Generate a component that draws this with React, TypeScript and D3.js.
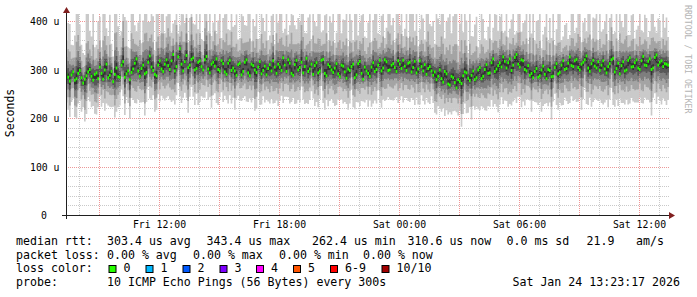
import React from "react";
import * as d3 from "d3";

const W = 697;
const H = 297;
const STEP = 5 * 60 * 1000;
const START = Date.UTC(2026, 0, 23, 7, 20);
const T0 = Date.UTC(2026, 0, 23, 7, 21);
const T1 = Date.UTC(2026, 0, 24, 13, 30);

// Samples are every 5 minutes. "A" arrays hold the samples at :x0 minutes,
// "B" arrays the samples 5 minutes later.
const medianA = [
  290, 276, 295, 281, 298, 272, 287, 300, 278, 293, 305, 280, 311, 288, 275, 303, 284, 316, 291, 279,
  301, 322, 286, 309, 294, 328, 298, 287, 318, 296, 320, 300, 331, 306, 343, 297, 329, 309, 324, 302,
  318, 299, 327, 293, 315, 322, 297, 312, 290, 319, 303, 288, 313, 296, 320, 287, 308, 294, 316, 298,
  289, 310, 318, 292, 305, 324, 296, 313, 288, 319, 304, 293, 323, 301, 290, 314, 297, 321, 287, 306,
  294, 312, 285, 307, 282, 298, 311, 289, 317, 280, 297, 286, 314, 300, 319, 303, 316, 299, 312, 296,
  311, 319, 298, 315, 304, 293, 318, 297, 290, 306, 288, 279, 299, 274, 291, 268, 283, 262, 275, 287,
  293, 277, 297, 283, 304, 286, 310, 293, 322, 301, 314, 326, 303, 322, 309, 331, 305, 318, 297, 288,
  283, 302, 287, 307, 281, 298, 286, 312, 294, 318, 302, 326, 306, 321, 299, 315, 328, 296, 319, 303,
  298, 318, 293, 312, 323, 302, 291, 316, 299, 324, 306, 320, 300, 327, 308, 322, 303, 330, 315, 306, 311,
];
const medianB = [
  284, 289, 278, 292, 283, 280, 295, 286, 290, 281, 292, 299, 283, 296, 290, 285, 309, 284, 297, 294,
  313, 297, 302, 291, 315, 305, 290, 309, 301, 311, 308, 318, 297, 326, 311, 316, 304, 321, 299, 315,
  306, 320, 301, 311, 307, 300, 318, 295, 313, 298, 297, 310, 289, 315, 293, 311, 299, 305, 291, 307,
  302, 297, 305, 311, 298, 309, 320, 292, 310, 299, 315, 306, 296, 311, 308, 293, 319, 292, 310, 299,
  303, 291, 309, 295, 301, 306, 283, 312, 292, 305, 292, 305, 296, 309, 297, 320, 298, 309, 304, 318,
  302, 307, 313, 295, 317, 301, 306, 310, 302, 297, 295, 286, 281, 296, 270, 286, 273, 279, 271, 295,
  282, 288, 279, 299, 281, 300, 292, 314, 296, 308, 305, 317, 314, 298, 325, 311, 320, 300, 308, 292,
  296, 284, 299, 290, 300, 285, 304, 291, 309, 300, 313, 308, 318, 304, 311, 320, 303, 312, 307, 316,
  309, 301, 306, 320, 295, 313, 308, 297, 319, 305, 314, 303, 318, 309, 317, 300, 325, 309, 318, 312, 309,
];

// distance of the sorted pings below the median (us)
const d1A = [
  58, 74, 55, 82, 63, 50, 79, 66, 53, 86, 60, 49, 81, 65, 52, 90, 58, 71, 48, 80,
  64, 92, 54, 76, 61, 88, 51, 70, 84, 56, 78, 62, 95, 59, 98, 55, 87, 65, 80, 52,
  85, 57, 73, 50, 68, 91, 54, 79, 52, 72, 61, 48, 77, 55, 86, 47, 67, 75, 89, 53,
  51, 80, 88, 56, 70, 93, 52, 83, 47, 89, 72, 55, 92, 64, 50, 81, 58, 90, 49, 71,
  63, 85, 48, 77, 53, 68, 89, 56, 92, 46, 59, 50, 84, 70, 88, 65, 79, 61, 76, 53,
  73, 87, 57, 82, 67, 51, 90, 62, 49, 77, 57, 72, 80, 54, 75, 56, 69, 50, 60, 79,
  83, 55, 72, 60, 88, 65, 95, 70, 99, 78, 86, 97, 68, 93, 75, 100, 62, 84, 58, 52,
  48, 70, 54, 82, 50, 66, 52, 85, 63, 91, 67, 95, 71, 88, 57, 76, 99, 54, 86, 65,
  60, 90, 55, 74, 96, 63, 51, 85, 61, 94, 72, 88, 58, 97, 69, 90, 61, 101, 80, 66, 84,
];
const d1B = [
  67, 56, 76, 62, 70, 87, 52, 64, 81, 59, 69, 84, 57, 74, 89, 63, 50, 78, 66, 53,
  82, 58, 70, 86, 51, 68, 77, 60, 55, 75, 63, 85, 69, 54, 80, 64, 93, 57, 72, 88,
  61, 78, 64, 90, 56, 73, 65, 49, 83, 68, 80, 64, 54, 70, 60, 79, 84, 51, 63, 75,
  68, 58, 74, 86, 52, 65, 77, 59, 81, 62, 50, 77, 67, 56, 83, 71, 53, 75, 86, 60,
  78, 53, 71, 62, 84, 48, 65, 80, 57, 73, 69, 82, 60, 52, 76, 85, 55, 72, 64, 87,
  57, 66, 78, 54, 90, 73, 59, 82, 70, 52, 84, 62, 68, 92, 63, 79, 58, 74, 89, 65,
  71, 91, 62, 81, 57, 84, 68, 77, 67, 96, 62, 81, 91, 72, 85, 67, 98, 74, 70, 79,
  63, 57, 86, 61, 76, 88, 54, 74, 83, 58, 84, 63, 79, 70, 94, 58, 76, 89, 67, 81,
  78, 69, 84, 58, 72, 88, 77, 69, 91, 64, 82, 71, 87, 67, 80, 95, 74, 65, 90, 77, 72,
];
const d2A = [
  28, 50, 33, 58, 36, 25, 52, 44, 29, 61, 35, 22, 56, 40, 27, 64, 31, 47, 21, 55,
  39, 68, 26, 51, 35, 62, 24, 45, 59, 30, 53, 37, 72, 33, 78, 28, 62, 40, 56, 25,
  60, 31, 48, 23, 42, 66, 27, 55, 26, 47, 36, 21, 52, 29, 61, 20, 41, 50, 64, 27,
  24, 57, 63, 30, 44, 69, 25, 58, 19, 63, 47, 28, 67, 38, 23, 56, 31, 65, 20, 45,
  37, 61, 20, 52, 26, 42, 64, 29, 67, 18, 32, 22, 59, 44, 63, 40, 55, 34, 51, 25,
  49, 62, 30, 57, 41, 23, 65, 36, 21, 52, 29, 46, 55, 26, 50, 27, 42, 22, 33, 54,
  58, 27, 47, 33, 63, 39, 70, 44, 76, 52, 61, 73, 41, 68, 49, 76, 34, 58, 30, 25,
  20, 44, 26, 57, 22, 40, 24, 60, 37, 66, 41, 71, 45, 63, 29, 51, 74, 26, 61, 38,
  32, 64, 27, 49, 70, 36, 23, 59, 34, 68, 46, 62, 29, 72, 44, 64, 33, 77, 55, 38, 58,
];
const d2B = [
  41, 28, 52, 35, 45, 63, 25, 38, 56, 31, 44, 59, 30, 49, 64, 37, 24, 54, 40, 27,
  57, 31, 45, 61, 25, 42, 52, 34, 28, 50, 37, 60, 44, 27, 55, 38, 69, 30, 46, 63,
  34, 53, 37, 65, 29, 47, 39, 22, 58, 42, 55, 38, 27, 44, 33, 54, 60, 25, 36, 50,
  42, 31, 49, 61, 26, 39, 52, 32, 56, 35, 24, 53, 41, 29, 58, 46, 27, 50, 61, 33,
  54, 27, 46, 35, 59, 22, 39, 56, 30, 47, 43, 57, 32, 26, 51, 60, 28, 46, 37, 62,
  30, 39, 53, 27, 65, 48, 32, 57, 44, 26, 60, 35, 42, 66, 37, 55, 31, 49, 63, 38,
  45, 65, 35, 56, 30, 58, 41, 51, 39, 70, 35, 56, 65, 46, 59, 39, 72, 48, 42, 54,
  37, 31, 60, 34, 51, 62, 28, 49, 57, 32, 58, 36, 54, 44, 68, 31, 49, 63, 40, 56,
  53, 42, 59, 31, 46, 62, 51, 43, 65, 37, 57, 44, 61, 40, 54, 67, 48, 38, 63, 51, 45,
];
const d3A = [
  17, 33, 20, 40, 22, 14, 35, 29, 16, 42, 22, 12, 38, 26, 15, 45, 18, 31, 11, 37,
  25, 47, 14, 34, 22, 43, 13, 29, 40, 17, 35, 23, 50, 20, 55, 16, 42, 26, 38, 14,
  41, 18, 32, 12, 27, 46, 15, 37, 14, 31, 23, 11, 35, 17, 42, 10, 26, 33, 45, 15,
  13, 39, 44, 18, 29, 48, 14, 40, 10, 43, 31, 16, 47, 24, 12, 38, 19, 45, 10, 29,
  23, 42, 10, 35, 15, 27, 44, 17, 47, 9, 19, 12, 40, 29, 44, 26, 37, 21, 34, 14,
  32, 43, 18, 39, 27, 13, 45, 23, 11, 35, 17, 30, 37, 15, 33, 16, 27, 12, 20, 36,
  39, 16, 31, 20, 44, 25, 49, 29, 53, 35, 42, 51, 26, 47, 32, 54, 21, 39, 18, 14,
  11, 28, 15, 38, 12, 25, 13, 41, 23, 45, 26, 49, 29, 43, 17, 33, 52, 15, 41, 24,
  20, 44, 16, 32, 48, 22, 13, 40, 21, 47, 30, 42, 17, 50, 28, 44, 20, 54, 37, 24, 39,
];
const d3B = [
  26, 16, 34, 21, 29, 42, 14, 23, 37, 18, 28, 39, 17, 31, 43, 22, 13, 35, 25, 15,
  37, 18, 28, 40, 14, 26, 34, 20, 16, 32, 23, 39, 28, 15, 36, 24, 46, 17, 29, 42,
  20, 34, 23, 43, 16, 30, 24, 12, 38, 26, 36, 23, 15, 28, 19, 35, 40, 14, 22, 32,
  26, 18, 31, 40, 15, 24, 34, 19, 37, 21, 13, 35, 25, 17, 38, 29, 15, 32, 40, 20,
  35, 15, 29, 21, 39, 12, 24, 37, 18, 30, 27, 37, 19, 14, 33, 39, 16, 29, 22, 41,
  17, 24, 34, 15, 43, 31, 19, 37, 28, 14, 39, 21, 26, 44, 22, 36, 18, 31, 42, 23,
  28, 43, 21, 36, 17, 38, 25, 33, 24, 47, 21, 36, 43, 29, 39, 24, 48, 31, 26, 35,
  22, 18, 39, 20, 33, 41, 16, 31, 37, 19, 38, 21, 35, 28, 45, 18, 31, 42, 25, 36,
  34, 26, 38, 18, 29, 41, 33, 27, 43, 22, 37, 28, 40, 24, 35, 44, 31, 23, 41, 33, 28,
];
const d4A = [
  8, 19, 10, 24, 12, 6, 20, 16, 7, 26, 11, 5, 23, 14, 7, 28, 9, 18, 5, 22,
  13, 29, 6, 20, 11, 26, 6, 16, 24, 8, 21, 12, 31, 10, 34, 7, 25, 14, 23, 6,
  25, 9, 19, 5, 15, 28, 7, 22, 6, 18, 12, 5, 21, 8, 26, 4, 14, 20, 28, 7,
  6, 24, 27, 9, 17, 30, 6, 25, 4, 26, 18, 7, 29, 13, 5, 23, 9, 28, 4, 17,
  12, 26, 4, 21, 7, 15, 27, 8, 29, 4, 9, 5, 25, 17, 27, 14, 22, 10, 20, 6,
  19, 27, 8, 24, 15, 6, 28, 12, 5, 21, 8, 17, 23, 7, 20, 7, 15, 5, 10, 22,
  24, 7, 18, 10, 27, 13, 31, 16, 33, 21, 26, 32, 14, 29, 19, 34, 10, 24, 9, 6,
  5, 16, 7, 23, 5, 13, 6, 25, 12, 28, 14, 30, 16, 26, 8, 19, 33, 7, 25, 12,
  10, 27, 7, 18, 30, 11, 6, 24, 10, 29, 17, 25, 8, 31, 15, 27, 10, 34, 22, 12, 23,
];
const d4B = [
  14, 8, 21, 11, 17, 26, 6, 12, 23, 9, 16, 24, 8, 18, 27, 11, 6, 21, 13, 7,
  22, 9, 16, 25, 6, 14, 20, 10, 8, 19, 12, 24, 16, 7, 22, 13, 29, 8, 17, 26,
  10, 20, 12, 27, 8, 17, 13, 5, 23, 14, 22, 12, 7, 16, 9, 21, 25, 6, 11, 19,
  14, 9, 18, 25, 7, 13, 20, 9, 23, 11, 6, 21, 14, 8, 24, 17, 7, 19, 25, 10,
  21, 7, 17, 11, 24, 5, 13, 23, 9, 18, 15, 23, 9, 7, 20, 24, 8, 17, 12, 26,
  8, 13, 21, 7, 27, 19, 9, 23, 16, 6, 24, 11, 15, 28, 11, 22, 9, 19, 26, 12,
  16, 27, 11, 22, 8, 23, 14, 20, 13, 30, 11, 22, 27, 17, 24, 13, 31, 19, 15, 21,
  12, 9, 24, 10, 20, 26, 7, 18, 23, 9, 23, 11, 21, 16, 28, 9, 18, 26, 14, 22,
  20, 14, 23, 9, 17, 25, 19, 15, 27, 12, 22, 16, 24, 13, 21, 27, 18, 12, 25, 19, 15,
];
const d5A = [
  3, 8, 4, 11, 5, 2, 9, 7, 2, 12, 4, 1, 10, 6, 2, 13, 3, 8, 1, 10,
  5, 14, 2, 9, 4, 12, 2, 7, 11, 3, 9, 5, 15, 4, 16, 2, 11, 6, 10, 2,
  11, 3, 8, 1, 6, 13, 2, 10, 2, 8, 5, 1, 9, 3, 12, 1, 6, 9, 13, 2,
  2, 11, 12, 3, 7, 14, 2, 11, 1, 12, 8, 2, 13, 5, 1, 10, 3, 13, 1, 7,
  5, 12, 1, 9, 2, 6, 12, 3, 14, 1, 3, 1, 11, 7, 12, 6, 10, 4, 9, 2,
  8, 12, 3, 11, 6, 2, 13, 5, 1, 9, 3, 7, 10, 2, 9, 2, 6, 1, 4, 10,
  11, 2, 8, 4, 12, 5, 14, 7, 15, 9, 12, 15, 6, 13, 8, 16, 4, 11, 3, 2,
  1, 7, 2, 10, 1, 5, 2, 11, 5, 13, 6, 14, 7, 12, 3, 8, 15, 2, 11, 5,
  4, 12, 2, 8, 14, 4, 2, 11, 4, 13, 7, 11, 3, 14, 6, 12, 4, 16, 10, 5, 10,
];
const d5B = [
  5, 2, 9, 3, 7, 12, 1, 4, 10, 2, 6, 10, 2, 7, 12, 3, 1, 9, 4, 2,
  9, 2, 6, 11, 1, 5, 8, 3, 2, 8, 4, 10, 6, 2, 9, 4, 13, 2, 7, 11,
  3, 8, 4, 12, 2, 7, 5, 1, 10, 5, 9, 4, 2, 6, 3, 9, 11, 1, 4, 8,
  5, 3, 7, 11, 2, 4, 8, 3, 10, 4, 1, 9, 5, 2, 10, 7, 2, 8, 11, 3,
  9, 2, 7, 4, 10, 1, 5, 10, 3, 7, 6, 10, 3, 2, 8, 10, 2, 7, 4, 11,
  2, 5, 9, 2, 12, 8, 3, 10, 6, 1, 10, 4, 6, 12, 4, 9, 3, 8, 11, 4,
  6, 12, 4, 9, 2, 10, 5, 8, 5, 13, 4, 9, 12, 7, 10, 5, 14, 8, 6, 9,
  4, 3, 10, 3, 8, 11, 2, 7, 10, 3, 10, 4, 9, 6, 12, 3, 7, 11, 5, 9,
  8, 5, 10, 3, 7, 11, 8, 6, 12, 4, 9, 6, 10, 5, 9, 12, 7, 4, 11, 8, 6,
];
// distance of the sorted pings above the median (us)
const u5A = [
  4, 8, 2, 11, 6, 3, 9, 5, 10, 2, 7, 12, 4, 8, 2, 11, 5, 13, 7, 3,
  8, 3, 10, 6, 12, 4, 7, 10, 2, 11, 5, 9, 3, 13, 2, 8, 11, 6, 4, 10,
  7, 3, 10, 12, 5, 2, 9, 6, 13, 3, 5, 9, 2, 7, 4, 11, 6, 9, 2, 7,
  10, 3, 6, 12, 8, 2, 10, 4, 8, 3, 6, 10, 2, 7, 11, 4, 9, 3, 14, 7,
  8, 3, 11, 6, 12, 8, 2, 10, 5, 12, 4, 9, 5, 8, 2, 9, 4, 11, 6, 9,
  5, 2, 10, 7, 8, 11, 3, 7, 9, 5, 8, 10, 6, 11, 7, 12, 9, 14, 8, 5,
  7, 11, 4, 9, 3, 8, 2, 10, 3, 7, 6, 2, 9, 3, 7, 2, 10, 5, 9, 11,
  12, 6, 10, 4, 13, 7, 10, 4, 8, 2, 6, 2, 8, 4, 9, 5, 2, 11, 6, 8,
  9, 4, 11, 6, 2, 8, 12, 4, 10, 2, 7, 3, 9, 2, 6, 3, 8, 2, 5, 7, 6,
];
const u5B = [
  8, 4, 6, 12, 4, 2, 9, 5, 3, 8, 3, 10, 6, 3, 13, 7, 4, 9, 2, 12,
  5, 7, 3, 12, 6, 10, 2, 8, 11, 4, 11, 3, 7, 2, 10, 5, 3, 13, 6, 4,
  3, 9, 5, 3, 11, 7, 2, 8, 4, 12, 6, 3, 11, 5, 9, 2, 6, 3, 12, 5,
  3, 8, 2, 6, 10, 5, 3, 12, 5, 8, 11, 4, 8, 3, 6, 10, 3, 9, 2, 7,
  3, 9, 4, 7, 2, 6, 11, 3, 9, 4, 7, 3, 10, 4, 8, 2, 12, 5, 3, 8,
  10, 5, 3, 9, 4, 2, 7, 3, 11, 6, 3, 9, 13, 4, 10, 6, 11, 4, 14, 9,
  3, 5, 8, 2, 10, 4, 7, 2, 9, 5, 11, 4, 3, 7, 2, 9, 3, 7, 2, 5,
  4, 8, 2, 7, 3, 5, 2, 9, 3, 6, 2, 8, 3, 10, 2, 6, 9, 3, 7, 2,
  4, 7, 3, 9, 5, 2, 6, 9, 3, 8, 2, 6, 4, 7, 2, 9, 4, 7, 2, 5, 3,
];
const u4A = [
  10, 20, 8, 26, 16, 9, 22, 13, 24, 8, 18, 27, 11, 21, 7, 25, 14, 29, 19, 10,
  21, 8, 25, 15, 28, 11, 19, 24, 7, 27, 15, 22, 9, 30, 7, 20, 26, 16, 11, 24,
  19, 9, 25, 27, 13, 7, 22, 16, 29, 9, 14, 21, 7, 19, 11, 26, 16, 23, 7, 18,
  24, 9, 17, 28, 19, 7, 25, 12, 21, 10, 16, 25, 7, 19, 27, 12, 22, 9, 30, 18,
  21, 10, 26, 16, 28, 20, 7, 24, 13, 29, 11, 23, 15, 20, 7, 21, 11, 25, 16, 22,
  13, 7, 23, 17, 20, 26, 10, 18, 22, 15, 19, 24, 16, 27, 18, 28, 21, 31, 20, 15,
  18, 26, 11, 21, 9, 20, 8, 23, 10, 19, 16, 7, 21, 10, 18, 7, 24, 13, 22, 26,
  28, 16, 24, 11, 29, 18, 25, 12, 21, 8, 16, 7, 19, 11, 22, 14, 8, 26, 15, 19,
  21, 11, 27, 16, 8, 21, 28, 12, 23, 7, 18, 10, 22, 8, 16, 9, 21, 7, 14, 19, 16,
];
const u4B = [
  19, 10, 16, 27, 11, 8, 21, 14, 9, 20, 9, 23, 15, 9, 29, 18, 12, 21, 8, 27,
  13, 17, 9, 28, 14, 22, 8, 20, 25, 11, 26, 10, 18, 8, 23, 13, 9, 29, 16, 11,
  9, 22, 13, 10, 24, 17, 8, 20, 12, 27, 16, 9, 25, 13, 21, 8, 15, 10, 28, 12,
  10, 19, 8, 15, 23, 13, 9, 28, 14, 18, 26, 12, 19, 9, 15, 24, 10, 20, 8, 17,
  9, 22, 11, 18, 8, 16, 25, 10, 20, 11, 18, 9, 23, 11, 19, 7, 27, 14, 9, 19,
  24, 13, 9, 21, 11, 8, 18, 9, 26, 16, 10, 20, 29, 12, 23, 15, 26, 12, 31, 22,
  9, 14, 19, 8, 24, 11, 16, 8, 21, 12, 25, 11, 9, 18, 8, 22, 10, 17, 7, 14,
  11, 20, 7, 17, 10, 14, 8, 21, 9, 16, 8, 19, 10, 23, 7, 15, 21, 9, 17, 7,
  12, 17, 9, 22, 14, 7, 16, 22, 9, 18, 8, 15, 11, 18, 8, 22, 11, 16, 8, 13, 10,
];
const u3A = [
  19, 35, 15, 44, 28, 17, 38, 23, 42, 16, 31, 47, 21, 37, 14, 43, 25, 49, 33, 18,
  36, 15, 44, 27, 48, 20, 33, 41, 14, 46, 26, 39, 18, 50, 13, 35, 45, 29, 20, 42,
  33, 17, 43, 47, 24, 14, 39, 28, 49, 17, 25, 37, 14, 34, 20, 45, 28, 40, 13, 32,
  41, 17, 30, 48, 33, 14, 43, 22, 37, 18, 28, 43, 14, 33, 47, 21, 38, 17, 50, 31,
  37, 18, 44, 28, 48, 35, 14, 42, 23, 49, 19, 40, 26, 35, 14, 37, 20, 44, 28, 39,
  23, 14, 41, 30, 36, 44, 18, 32, 38, 26, 33, 42, 28, 46, 32, 49, 37, 52, 35, 26,
  32, 44, 20, 37, 16, 35, 14, 41, 18, 33, 27, 14, 37, 18, 32, 13, 41, 23, 39, 45,
  48, 29, 42, 19, 50, 32, 43, 21, 36, 14, 28, 13, 33, 19, 39, 24, 14, 44, 26, 34,
  37, 19, 46, 28, 14, 36, 48, 21, 40, 13, 32, 18, 38, 14, 29, 16, 36, 13, 25, 33, 28,
];
const u3B = [
  34, 19, 28, 46, 20, 15, 38, 25, 17, 36, 16, 41, 26, 17, 50, 31, 21, 37, 15, 48,
  23, 30, 16, 49, 25, 40, 14, 35, 44, 19, 45, 18, 32, 14, 40, 24, 16, 51, 28, 20,
  17, 38, 23, 18, 43, 30, 14, 36, 21, 47, 29, 16, 44, 23, 37, 14, 27, 18, 48, 22,
  17, 34, 14, 26, 40, 22, 16, 49, 24, 32, 45, 21, 33, 16, 27, 42, 17, 36, 14, 29,
  16, 38, 20, 32, 14, 29, 44, 17, 36, 19, 31, 16, 40, 20, 34, 13, 47, 24, 16, 33,
  42, 23, 16, 36, 19, 14, 32, 16, 45, 27, 17, 35, 51, 20, 41, 27, 46, 21, 53, 39,
  16, 24, 34, 14, 42, 19, 29, 14, 37, 21, 43, 19, 16, 31, 14, 38, 17, 30, 13, 24,
  19, 35, 13, 29, 17, 24, 14, 37, 16, 27, 15, 33, 17, 40, 13, 26, 37, 15, 29, 13,
  21, 29, 16, 39, 24, 13, 27, 38, 16, 32, 15, 26, 19, 31, 15, 38, 19, 28, 14, 22, 17,
];
const u2A = [
  36, 61, 29, 76, 50, 33, 67, 41, 73, 30, 55, 80, 39, 63, 27, 74, 45, 84, 57, 35,
  62, 29, 75, 47, 82, 37, 58, 70, 27, 78, 46, 68, 33, 86, 25, 60, 77, 50, 37, 72,
  57, 31, 73, 81, 43, 27, 67, 49, 84, 32, 44, 65, 27, 58, 36, 77, 50, 69, 25, 56,
  71, 31, 53, 83, 58, 27, 74, 40, 64, 33, 49, 74, 27, 58, 80, 39, 66, 31, 88, 54,
  64, 33, 76, 50, 82, 60, 26, 72, 41, 85, 35, 69, 45, 60, 27, 65, 36, 75, 48, 68,
  41, 26, 70, 53, 62, 76, 34, 56, 67, 45, 58, 72, 48, 79, 55, 83, 65, 90, 62, 46,
  56, 76, 37, 65, 29, 61, 26, 71, 33, 58, 48, 26, 65, 32, 56, 24, 72, 40, 67, 78,
  82, 51, 72, 33, 85, 56, 74, 37, 62, 26, 48, 23, 58, 34, 68, 42, 26, 76, 45, 59,
  65, 34, 80, 48, 26, 62, 83, 37, 70, 24, 57, 32, 67, 26, 50, 29, 63, 24, 44, 57, 49,
];
const u2B = [
  58, 33, 47, 79, 35, 27, 64, 42, 30, 61, 29, 70, 44, 30, 85, 53, 37, 63, 26, 81,
  40, 51, 28, 83, 43, 67, 25, 59, 74, 33, 77, 31, 54, 25, 68, 41, 27, 87, 48, 36,
  30, 65, 39, 31, 73, 52, 25, 61, 37, 80, 49, 27, 75, 40, 64, 25, 46, 30, 82, 37,
  30, 58, 25, 44, 68, 39, 27, 84, 42, 55, 77, 37, 57, 27, 46, 71, 30, 61, 25, 50,
  27, 65, 34, 55, 25, 49, 74, 30, 61, 33, 54, 27, 69, 34, 58, 24, 81, 42, 27, 57,
  71, 40, 27, 62, 33, 25, 55, 27, 77, 47, 30, 61, 87, 35, 70, 46, 79, 36, 90, 66,
  27, 42, 58, 25, 71, 33, 49, 25, 64, 37, 74, 33, 27, 54, 25, 65, 30, 52, 24, 42,
  33, 60, 24, 50, 30, 41, 25, 64, 27, 47, 26, 57, 30, 69, 24, 44, 63, 26, 50, 24,
  36, 50, 27, 67, 42, 24, 47, 65, 27, 55, 26, 45, 33, 53, 26, 65, 33, 49, 25, 38, 30,
];
const u1A = [
  70, 118, 55, 150, 95, 62, 128, 80, 140, 58, 104, 160, 74, 125, 52, 145, 86, 170, 110, 65,
  120, 56, 148, 92, 165, 70, 112, 137, 52, 155, 90, 132, 64, 175, 48, 117, 150, 97, 71, 140,
  110, 60, 144, 160, 82, 52, 131, 94, 168, 62, 85, 126, 52, 114, 70, 152, 96, 134, 48, 108,
  140, 60, 102, 166, 112, 52, 146, 78, 124, 64, 95, 145, 52, 113, 158, 75, 128, 60, 178, 104,
  124, 64, 150, 96, 163, 117, 50, 140, 80, 170, 68, 134, 88, 117, 52, 126, 70, 148, 94, 132,
  80, 50, 138, 102, 120, 150, 65, 108, 130, 88, 112, 142, 94, 155, 107, 166, 127, 182, 120, 90,
  108, 150, 71, 126, 56, 118, 50, 138, 64, 112, 94, 50, 126, 62, 108, 46, 140, 78, 131, 154,
  162, 98, 141, 65, 170, 108, 146, 71, 121, 50, 94, 45, 113, 65, 132, 82, 50, 150, 88, 114,
  127, 65, 158, 94, 50, 121, 164, 71, 136, 47, 110, 62, 130, 50, 98, 57, 122, 46, 86, 111, 96,
];
const u1B = [
  112, 62, 92, 155, 68, 50, 126, 82, 56, 118, 54, 138, 86, 57, 168, 104, 70, 124, 49, 160,
  78, 100, 52, 165, 83, 132, 48, 116, 146, 64, 152, 58, 105, 48, 134, 80, 52, 172, 94, 68,
  57, 128, 76, 58, 144, 101, 47, 119, 70, 158, 95, 52, 147, 77, 125, 47, 90, 58, 162, 72,
  58, 114, 47, 86, 134, 75, 52, 165, 81, 107, 152, 70, 111, 52, 90, 140, 58, 120, 48, 98,
  52, 128, 66, 107, 47, 96, 146, 58, 120, 63, 105, 52, 135, 66, 114, 45, 160, 82, 52, 111,
  140, 77, 52, 122, 63, 47, 107, 52, 152, 92, 58, 119, 172, 68, 137, 89, 156, 70, 184, 130,
  52, 81, 114, 47, 140, 64, 96, 47, 125, 72, 146, 63, 52, 105, 47, 128, 58, 101, 45, 82,
  64, 118, 45, 98, 58, 80, 47, 126, 52, 92, 50, 111, 58, 135, 45, 86, 124, 50, 98, 45,
  69, 98, 52, 132, 82, 45, 92, 128, 52, 107, 50, 87, 63, 104, 50, 128, 63, 96, 48, 74, 58,
];

const yMajor = [0, 100, 200, 300, 400];
const yTickLabels = ["0", "100 u", "200 u", "300 u", "400 u"];
const xTickLabels = ["Fri 12:00", "Fri 18:00", "Sat 00:00", "Sat 06:00", "Sat 12:00"];
const smokeColors = ["#cacaca", "#a4a4a4", "#7e7e7e", "#585858", "#323232"];
const lossLabels = ["0", "1", "2", "3", "4", "5", "6-9", "10/10"];
const lossColors = ["#26ff00", "#00b8ff", "#0059ff", "#7e00ff", "#ff00ff", "#ff5500", "#ff0000", "#a10000"];
const lossBoxX = [108.5, 145.5, 182.5, 219.5, 256, 293, 330, 381.5];

const MONO = "'DejaVu Sans Mono', monospace";

const merge = (a: number[], b: number[]) => a.flatMap((v, i) => (i < b.length ? [v, b[i]] : [v]));

export default function App() {
  const median = merge(medianA, medianB);
  const below = [merge(d1A, d1B), merge(d2A, d2B), merge(d3A, d3B), merge(d4A, d4B), merge(d5A, d5B)];
  const above = [merge(u5A, u5B), merge(u4A, u4B), merge(u3A, u3B), merge(u2A, u2B), merge(u1A, u1B)];
  const N = median.length;
  const x = d3.scaleUtc().domain([T0, T1]).range([66, 669]);
  const y = d3.scaleLinear().domain([0, 400]).range([215, 21]);
  const tOf = (i: number) => START + i * STEP;

  const pings = median.map((m, i) =>
    [...below.map((a) => m - a[i]), ...above.map((a) => m + a[i])].sort((p, q) => p - q)
  );
  const idx = d3.range(N + 1);
  const bands = smokeColors.map((col, k) => {
    const area = d3
      .area<number>()
      .x((i) => x(tOf(i)))
      .y0((i) => y(pings[Math.min(i, N - 1)][k]))
      .y1((i) => y(pings[Math.min(i, N - 1)][9 - k]))
      .curve(d3.curveStepAfter);
    return <path key={k} d={area(idx) || ""} fill={col} />;
  });

  const hours = d3.utcHour.range(new Date(T0), new Date(T1));
  const minorY = d3.range(0, 420, 20).filter((v) => v % 100 !== 0 && y(v) >= 14);
  const labelTimes = d3.utcHour.every(6)!.range(new Date(T0), new Date(T1));

  const px = (v: number) => Math.round(v) + 0.5;

  const grid = (minorCol: string, majorCol: string, key: string, majorH: number[]) => (
    <g key={key}>
      {minorY.map((v) => (
        <line key={"hy" + v} x1={66} x2={669} y1={px(y(v))} y2={px(y(v))} stroke={minorCol} strokeDasharray="1,1" />
      ))}
      {hours
        .filter((h) => h.getUTCHours() % 3 !== 0)
        .map((h) => (
          <line key={"vx" + +h} x1={px(x(h))} x2={px(x(h))} y1={14} y2={215} stroke={minorCol} strokeDasharray="1,1" />
        ))}
      {majorH.map((v) => (
        <line key={"my" + v} x1={66} x2={669} y1={px(y(v))} y2={px(y(v))} stroke={majorCol} strokeDasharray="1,1" />
      ))}
      {hours
        .filter((h) => h.getUTCHours() % 3 === 0)
        .map((h) => (
          <line key={"mx" + +h} x1={px(x(h))} x2={px(x(h))} y1={14} y2={215} stroke={majorCol} strokeDasharray="1,1" />
        ))}
    </g>
  );

  return (
    <svg width={W} height={H} style={{ position: "fixed", left: 0, top: 0, background: "#fff" }} fontFamily={MONO}>
      <rect x={0} y={0} width={W} height={H} fill="#fff" />
      <defs>
        <clipPath id="plot">
          <rect x={66} y={14} width={603} height={201} />
        </clipPath>
      </defs>
      {grid("#c4c4c4", "#ec9898", "under", yMajor.filter((v) => v > 0))}
      <g clipPath="url(#plot)">{bands}</g>
      {grid("rgba(225,225,225,0.2)", "rgba(255,140,140,0.28)", "over", [400])}
      {/* median */}
      <g clipPath="url(#plot)">
        {median.map((m, i) => {
          const x0 = x(tOf(i));
          const x1 = x(tOf(i + 1));
          return <rect key={i} x={x0} y={y(m) - 1.5} width={x1 - x0} height={3} fill={lossColors[0]} />;
        })}
      </g>
      {/* axes */}
      <line x1={62} x2={669} y1={215.5} y2={215.5} stroke="#1f1f1f" />
      <line x1={66.5} x2={66.5} y1={219} y2={13} stroke="#1f1f1f" />
      <path d="M66.5,7 L63,13 L70,13 Z" fill="#801f1f" />
      <path d="M675,215.5 L669,212 L669,219 Z" fill="#801f1f" />
      {/* y labels */}
      {yMajor.map((v, i) => (
        <text key={"yl" + v} x={v === 0 ? 47 : 59.5} y={px(y(v)) + 3.5} fontSize={9.8} textAnchor="end" fill="#000">
          {yTickLabels[i]}
        </text>
      ))}
      {labelTimes.map((t, i) => (
        <text key={"xl" + i} x={x(t) + 0.5} y={228} fontSize={9.8} textAnchor="middle" fill="#000">
          {xTickLabels[i]}
        </text>
      ))}
      <text transform="translate(14,113) rotate(-90)" fontSize={11.5} textAnchor="middle" fill="#000">
        Seconds
      </text>
      <text transform="translate(685,5) rotate(90)" fontSize={8.2} fill="#b4b4b4">
        RRDTOOL / TOBI OETIKER
      </text>
      {/* legend */}
      <g fontSize={11.6} fill="#000" style={{ whiteSpace: "pre" }}>
        <text x={16} y={245}>median rtt:</text>
        <text x={107} y={245}>303.4 us avg</text>
        <text x={206.5} y={245}>343.4 us max</text>
        <text x={312} y={245}>262.4 us min</text>
        <text x={407.5} y={245}>310.6 us now</text>
        <text x={506.5} y={245}>0.0 ms sd</text>
        <text x={586.5} y={245}>21.9</text>
        <text x={636} y={245}>am/s</text>

        <text x={16} y={258.7}>packet loss:</text>
        <text x={107} y={258.7}>0.00 % avg</text>
        <text x={193} y={258.7}>0.00 % max</text>
        <text x={279} y={258.7}>0.00 % min</text>
        <text x={363} y={258.7}>0.00 % now</text>

        <text x={16} y={272.3}>loss color:</text>
        {lossLabels.map((l, i) => (
          <g key={l}>
            <rect x={lossBoxX[i] + 0.5} y={265.5} width={7} height={7} fill={lossColors[i]} stroke="#000" strokeWidth={1} />
            <text x={lossBoxX[i] + 15} y={272.3}>
              {l}
            </text>
          </g>
        ))}

        <text x={16} y={286}>probe:</text>
        <text x={107} y={286}>10 ICMP Echo Pings (56 Bytes) every 300s</text>
        <text x={680} y={286} textAnchor="end">
          Sat Jan 24 13:23:17 2026
        </text>
      </g>
    </svg>
  );
}
